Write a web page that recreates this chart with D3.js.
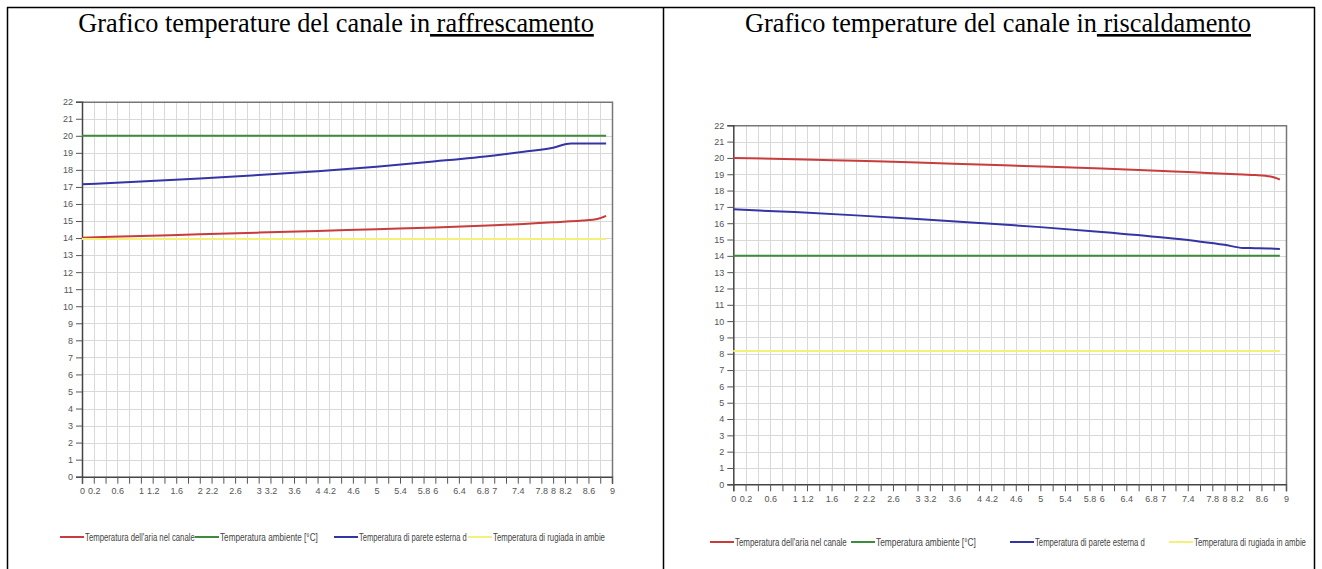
<!DOCTYPE html>
<html lang="it">
<head>
<meta charset="UTF-8">
<title>Grafico temperature del canale</title>
<script src="https://d3js.org/d3.v7.min.js"></script>
<style>
  body { margin: 0; background: #fff; }
  svg { display: block; }
  .title { font-family: "Liberation Serif", "Times New Roman", serif; font-size: 26.3px; fill: #000; }
  .tick text { font-family: "Liberation Sans", Arial, sans-serif; font-size: 9px; fill: #555; }
  .legend text { font-family: "Liberation Sans", Arial, sans-serif; font-size: 10px; fill: #444; }
</style>
</head>
<body>
<svg id="page" width="1322" height="569"></svg>
<script>
// dati
var xs = [0, 1, 2, 3, 4, 5, 6, 7, 7.5, 8, 8.3, 8.5, 8.75, 8.9]

// raffrescamento
var coolAria    = [14.02, 14.12, 14.22, 14.32, 14.42, 14.52, 14.62, 14.75, 14.83, 14.93, 14.98, 15.03, 15.12, 15.3]
var coolAmb     = [20, 20, 20, 20, 20, 20, 20, 20, 20, 20, 20, 20, 20, 20]
var coolParete  = [17.15, 17.32, 17.5, 17.7, 17.92, 18.18, 18.5, 18.85, 19.06, 19.3, 19.55, 19.55, 19.55, 19.55]
var coolRugiada = [13.95, 13.95, 13.95, 13.95, 13.95, 13.95, 13.95, 13.95, 13.95, 13.95, 13.95, 13.95, 13.95, 13.95]

// riscaldamento
var heatAria    = [20.0, 19.92, 19.82, 19.72, 19.6, 19.48, 19.35, 19.2, 19.12, 19.03, 18.98, 18.95, 18.86, 18.68]
var heatAmb     = [14, 14, 14, 14, 14, 14, 14, 14, 14, 14, 14, 14, 14, 14]
var heatParete  = [16.85, 16.68, 16.48, 16.26, 16.02, 15.76, 15.46, 15.12, 14.92, 14.68, 14.48, 14.47, 14.45, 14.42]
var heatRugiada = [8.17, 8.17, 8.17, 8.17, 8.17, 8.17, 8.17, 8.17, 8.17, 8.17, 8.17, 8.17, 8.17, 8.17]

var seriesNames = ["Temperatura dell'aria nel canale", 'Temperatura ambiente [°C]', 'Temperatura di parete esterna d', 'Temperatura di rugiada in ambie']
var seriesColors = ['#c83c3c', '#3c8c3c', '#3434a4', '#f4f07a']

var xTickValues = d3.range(0, 46).map(function (i) { return +(i * 0.2).toFixed(1) })
var xTickLabels = [0, 0.2, 0.6, 1, 1.2, 1.6, 2, 2.2, 2.6, 3, 3.2, 3.6, 4, 4.2, 4.6, 5, 5.4, 5.8, 6, 6.4, 6.8, 7, 7.4, 7.8, 8, 8.2, 8.6, 9]
var yTickValues = d3.range(0, 23)

var svg = d3.select('#page')

// bordi della tabella
var border = svg.append('g').attr('stroke', '#000').attr('stroke-width', 1.5)
border.append('line').attr('x1', 7).attr('x2', 1315).attr('y1', 7.5).attr('y2', 7.5)
;[7.5, 663.5, 1314.5].forEach(function (x) {
  border.append('line').attr('x1', x).attr('x2', x).attr('y1', 7).attr('y2', 569)
})

function drawTitle (cx, lead, under) {
  var t = svg.append('text').attr('class', 'title')
    .attr('x', cx).attr('y', 32).attr('text-anchor', 'middle')
  t.append('tspan').text(lead)
  t.append('tspan').attr('text-decoration', 'underline').text(under)
}
drawTitle(336, 'Grafico temperature del canale in', ' raffrescamento')
drawTitle(998, 'Grafico temperature del canale in', ' riscaldamento')

function drawChart (cfg) {
  var g = svg.append('g')
  var x = d3.scaleLinear().domain([0, 9]).range([cfg.left, cfg.right])
  var y = d3.scaleLinear().domain([0, 22]).range([cfg.bottom, cfg.top])

  // griglia
  var grid = g.append('g').attr('stroke', '#d9d9d9').attr('stroke-width', 1)
  grid.selectAll('.gx').data(xTickValues.slice(1)).enter().append('line')
    .attr('x1', function (d) { return Math.round(x(d)) + 0.5 })
    .attr('x2', function (d) { return Math.round(x(d)) + 0.5 })
    .attr('y1', cfg.top).attr('y2', cfg.bottom)
  grid.selectAll('.gy').data(yTickValues.slice(1)).enter().append('line')
    .attr('y1', function (d) { return Math.round(y(d)) + 0.5 })
    .attr('y2', function (d) { return Math.round(y(d)) + 0.5 })
    .attr('x1', cfg.left).attr('x2', cfg.right)

  // cornice superiore e destra
  g.append('path')
    .attr('d', 'M' + cfg.left + ',' + (cfg.top + 0.5) + 'H' + (cfg.right + 0.5) + 'V' + cfg.bottom)
    .attr('fill', 'none').attr('stroke', '#777').attr('stroke-width', 1.5)

  // assi
  var xAxis = d3.axisBottom(x).tickValues(xTickValues).tickSize(7).tickPadding(4)
    .tickFormat(function (d) { return xTickLabels.indexOf(d) >= 0 ? String(d) : '' })
  var gx = g.append('g').attr('transform', 'translate(0,' + cfg.bottom + ')').call(xAxis)
  var yAxis = d3.axisLeft(y).tickValues(yTickValues).tickSize(6).tickPadding(3)
  var gy = g.append('g').attr('transform', 'translate(' + cfg.left + ',0)').call(yAxis)
  ;[gx, gy].forEach(function (a) {
    a.select('.domain').attr('stroke', '#444').attr('stroke-width', 1.5)
    a.selectAll('.tick line').attr('stroke', '#555')
  })

  // serie
  var line = d3.line()
    .x(function (d) { return x(d[0]) })
    .y(function (d) { return y(d[1]) })
    .curve(d3.curveMonotoneX)
  cfg.series.forEach(function (vals, i) {
    g.append('path')
      .datum(xs.map(function (v, k) { return [v, vals[k]] }))
      .attr('d', line)
      .attr('fill', 'none')
      .attr('stroke', seriesColors[i])
      .attr('stroke-width', 2)
  })

  // legenda (testo compresso in orizzontale come nell'originale)
  var lg = g.append('g').attr('class', 'legend')
  cfg.legend.forEach(function (it, i) {
    lg.append('line')
      .attr('x1', it.x).attr('x2', it.x + 24)
      .attr('y1', cfg.legendY).attr('y2', cfg.legendY)
      .attr('stroke', seriesColors[i]).attr('stroke-width', 2)
    var t = lg.append('text')
      .attr('x', 0).attr('y', 0)
      .text(seriesNames[i])
    var k = it.w / t.node().getComputedTextLength()
    t.attr('transform', 'translate(' + (it.x + 25) + ',' + (cfg.legendY + 3.5) + ') scale(' + k + ',1)')
  })
}

drawChart({
  left: 82, right: 612, top: 101.7, bottom: 476.7,
  series: [coolAria, coolAmb, coolParete, coolRugiada],
  legendY: 537,
  legend: [{ x: 60, w: 110 }, { x: 195, w: 98 }, { x: 334, w: 108 }, { x: 468, w: 112 }]
})
drawChart({
  left: 733.3, right: 1286, top: 125.3, bottom: 484.3,
  series: [heatAria, heatAmb, heatParete, heatRugiada],
  legendY: 542,
  legend: [{ x: 710, w: 112 }, { x: 851, w: 100 }, { x: 1010, w: 110 }, { x: 1169, w: 112 }]
})
</script>
</body>
</html>
